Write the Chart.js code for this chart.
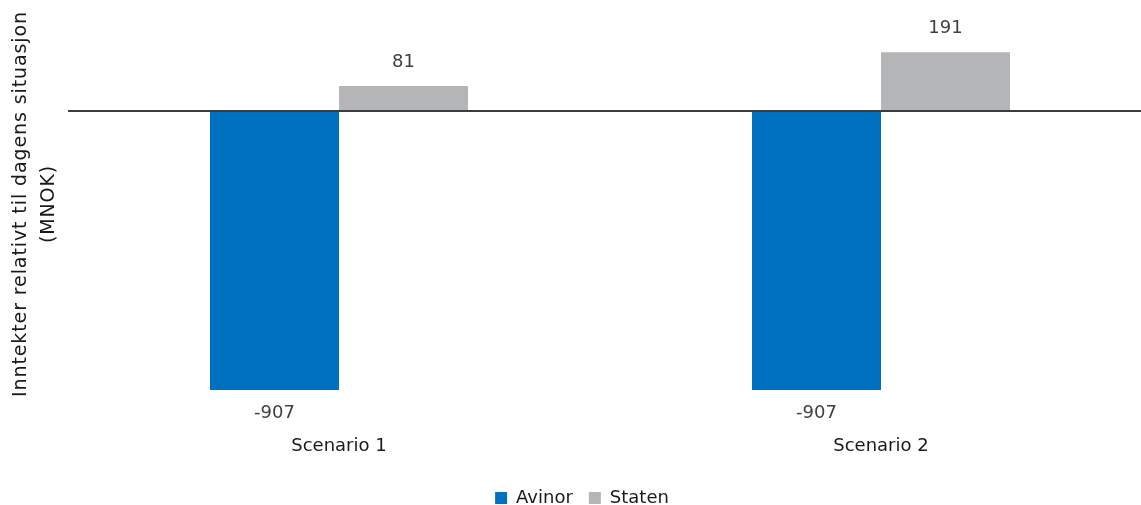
<!DOCTYPE html>
<html>
<head>
<meta charset="utf-8">
<script src="https://cdn.jsdelivr.net/npm/chart.js@4/dist/chart.umd.min.js"></script>
<style>
html,body{margin:0;padding:0;overflow:hidden;background:#fff;}
#wrap{width:1152px;height:505px;position:relative;}
</style>
</head>
<body>
<div id="wrap"><canvas id="c"></canvas></div>
<script>
const categories = ["Scenario 1", "Scenario 2"];
const avinorValues = [-907, -907];
const statenValues = [81, 191];
const seriesNames = ["Avinor", "Staten"];
const yTitleLines = ["Inntekter relativt til dagens situasjon", "(MNOK)"];

const FONT = "'DejaVu Sans', sans-serif";
const FSIZE = 18;

const valueLabels = {
  id: 'valueLabels',
  afterDatasetsDraw(chart) {
    const ctx = chart.ctx;
    ctx.save();
    ctx.font = FSIZE + "px " + FONT;
    ctx.fillStyle = '#404040';
    ctx.textAlign = 'center';
    ctx.textBaseline = 'middle';
    chart.data.datasets.forEach((ds, di) => {
      const meta = chart.getDatasetMeta(di);
      meta.data.forEach((el, i) => {
        const v = ds.data[i];
        const y = v >= 0 ? el.y - 24 : el.y + 23;
        ctx.fillText(String(v), el.x, y);
      });
    });
    ctx.restore();
  }
};

const yTitle = {
  id: 'yTitle',
  afterDraw(chart) {
    const ctx = chart.ctx;
    ctx.save();
    ctx.font = "19px " + FONT;
    ctx.fillStyle = '#1a1a1a';
    ctx.textAlign = 'center';
    ctx.textBaseline = 'middle';
    try { ctx.letterSpacing = '0.9px'; } catch (e) {}
    const xs = [21, 49];
    yTitleLines.forEach((t, i) => {
      ctx.save();
      ctx.translate(xs[i], 204);
      ctx.rotate(-Math.PI / 2);
      ctx.fillText(t, 0, 0);
      ctx.restore();
    });
    ctx.restore();
  }
};

const legendFix = {
  id: 'legendFix',
  beforeLayout(chart) {
    const lg = chart.legend;
    if (lg && !lg._fixed) {
      const f = lg.fit.bind(lg);
      lg.fit = function () { f(); this.height = 32; };
      lg._fixed = true;
    }
  },
  afterLayout(chart) {
    const lg = chart.legend;
    if (lg) { lg.left += 6; lg.right += 6; }
  }
};

new Chart(document.getElementById('c'), {
  type: 'bar',
  data: {
    labels: categories,
    datasets: [
      { label: seriesNames[0], data: avinorValues, backgroundColor: '#0070C0', barPercentage: 1, categoryPercentage: 0.476 },
      { label: seriesNames[1], data: statenValues, backgroundColor: '#B4B5B7', barPercentage: 1, categoryPercentage: 0.476 }
    ]
  },
  options: {
    responsive: true,
    maintainAspectRatio: false,
    animation: false,
    devicePixelRatio: 1,
    layout: { padding: { top: 34, bottom: 0, left: 0, right: 0 } },
    plugins: {
      tooltip: { enabled: false },
      legend: {
        position: 'bottom',
        labels: {
          boxWidth: 12, boxHeight: 12, padding: 16,
          color: '#1a1a1a',
          font: { family: FONT, size: FSIZE }
        }
      }
    },
    scales: {
      x: {
        grid: { display: false, drawTicks: false },
        border: { display: false },
        afterFit(scale) { scale.height = 54.4; },
        ticks: { color: '#1a1a1a', font: { family: FONT, size: FSIZE }, padding: 17 }
      },
      y: {
        min: -1000, max: 250,
        afterFit(scale) { scale.width = 68; },
        ticks: { display: false, stepSize: 250 },
        border: { display: false },
        grid: {
          drawTicks: false,
          lineWidth: 2,
          color: (c) => (c.tick && c.tick.value === 0) ? '#3c3c3c' : 'rgba(0,0,0,0)'
        }
      }
    }
  },
  plugins: [valueLabels, yTitle, legendFix]
});
</script>
</body>
</html>
